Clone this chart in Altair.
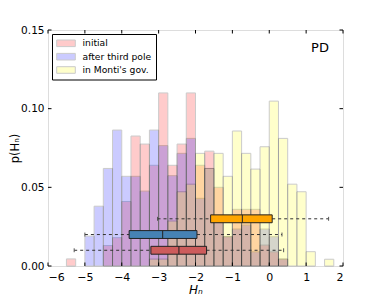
import altair as alt
import pandas as pd

FONT = "DejaVu Sans"
W, H = 295, 236

# ---- histogram data (bin left edges, width 0.25; values = fraction per bin) ----
bin_left = [-5.5, -5.25, -5.0, -4.75, -4.5, -4.25, -4.0, -3.75, -3.5, -3.25,
            -3.0, -2.75, -2.5, -2.25, -2.0, -1.75, -1.5, -1.25, -1.0, -0.75,
            -0.5, -0.25, 0.0, 0.25, 0.5, 0.75, 1.0, 1.25, 1.5]
bin_width = 0.25
initial = [0.0045, 0, 0, 0, 0.013, 0.018, 0.041, 0.0826, 0.0775, 0.064,
           0.110, 0.064, 0.0775, 0.110, 0.064, 0.073, 0.050, 0.0186, 0.036, 0.036,
           0.036, 0.0133, 0.009, 0.0044, 0, 0, 0, 0, 0]
third_pole = [0, 0, 0.019, 0.038, 0.062, 0.0864, 0.057, 0.057, 0.0476, 0.0864,
              0.0765, 0.0574, 0.0716, 0.0811, 0.043, 0.062, 0.032, 0.0186, 0.0235, 0.026,
              0.009, 0.0235, 0.0186, 0.0044, 0, 0, 0, 0, 0]
monti = [0, 0, 0, 0, 0, 0, 0, 0, 0, 0.0044,
         0.0044, 0.0286, 0.0472, 0.052, 0.0716, 0.062, 0.0716, 0.057, 0.0858, 0.0716,
         0.0616, 0.0758, 0.1048, 0.0811, 0.052, 0.0472, 0.0091, 0, 0.0043]

series_names = ["initial", "after third pole", "in Monti's gov."]
series_values = [initial, third_pole, monti]
hist_colors = ["#ff0000", "#0000ff", "#ffff00"]

# ---- box plot summaries ----
box_names = ["in Monti's gov.", "after third pole", "initial"]
box_pos = [0.03, 0.02, 0.01]
box_lo = [-3.03, -5.0, -5.29]
box_q1 = [-1.59, -3.80, -3.21]
box_med = [-0.73, -2.89, -2.45]
box_q3 = [0.08, -1.96, -1.70]
box_hi = [1.61, 0.345, 0.39]
box_colors = ["#ffa500", "#4682b4", "#cd5c5c"]
BOX_H = 0.005

xticks = [-6, -5, -4, -3, -2, -1, 0, 1, 2]
yticks = [0.0, 0.05, 0.10, 0.15]

xs = alt.Scale(domain=[-6, 2], nice=False, zero=False)
ys = alt.Scale(domain=[0, 0.15], nice=False, zero=False)

xaxis = alt.Axis(values=xticks, title="Hₙ", format="d", ticks=False, domain=False,
                 grid=False, labelPadding=5, labelFontSize=11, titleFontSize=12,
                 titleFontStyle="italic", titleFontWeight="normal",
                 titleX=W / 2, titleY=23, titleBaseline="middle", titleAlign="center",
                 labelFont=FONT, titleFont=FONT, labelColor="black", titleColor="black")
yaxis = alt.Axis(values=yticks, title="p(Hₙ)", format=".2f", ticks=False, domain=False,
                 grid=False, labelPadding=4, labelFontSize=10.5, titleFontSize=11.5,
                 titleFontWeight="normal", titleAngle=270,
                 titleX=-33, titleY=118, titleBaseline="middle", titleAlign="center",
                 labelFont=FONT, titleFont=FONT, labelColor="black", titleColor="black")


def X(field):
    return alt.X(field, type="quantitative", scale=xs, axis=xaxis)


def Y(field):
    return alt.Y(field, type="quantitative", scale=ys, axis=yaxis)


layers = []

# histograms
for name, vals, col in zip(series_names, series_values, hist_colors):
    df = pd.DataFrame({"left": bin_left, "val": vals})
    df = df[df["val"] > 0].copy()
    df["right"] = df["left"] + bin_width
    df["base"] = 0.0
    layers.append(
        alt.Chart(df).mark_rect(fill=col, stroke="black", strokeWidth=1, opacity=0.2)
        .encode(x=X("left"), x2="right", y=Y("val"), y2="base")
    )

# box plots
bdf = pd.DataFrame({"name": box_names, "pos": box_pos, "lo": box_lo, "q1": box_q1,
                    "med": box_med, "q3": box_q3, "hi": box_hi})
bdf["ylo"] = bdf["pos"] - BOX_H / 2
bdf["yhi"] = bdf["pos"] + BOX_H / 2
bdf["clo"] = bdf["pos"] - BOX_H / 4
bdf["chi"] = bdf["pos"] + BOX_H / 4

dash = alt.Chart(bdf)
layers.append(dash.mark_rule(color="#333333", strokeWidth=1, strokeDash=[3, 3])
              .encode(x=X("lo"), x2="q1", y=Y("pos")))
layers.append(dash.mark_rule(color="#333333", strokeWidth=1, strokeDash=[3, 3])
              .encode(x=X("q3"), x2="hi", y=Y("pos")))
layers.append(dash.mark_rule(color="#555555", strokeWidth=1)
              .encode(x=X("lo"), y=Y("clo"), y2="chi"))
layers.append(dash.mark_rule(color="#555555", strokeWidth=1)
              .encode(x=X("hi"), y=Y("clo"), y2="chi"))
layers.append(dash.mark_rect(stroke="#222222", strokeWidth=1)
              .encode(x=X("q1"), x2="q3", y=Y("ylo"), y2="yhi",
                      fill=alt.Fill("name:N", scale=alt.Scale(domain=box_names, range=box_colors),
                                    legend=None)))
layers.append(dash.mark_rule(color="#222222", strokeWidth=1)
              .encode(x=X("med"), y=Y("ylo"), y2="yhi"))

# inward ticks on all four sides
tx = pd.DataFrame({"t": xticks})
ty = pd.DataFrame({"t": yticks})
TL = 3.5
layers.append(alt.Chart(tx).mark_rule(color="black", strokeWidth=1)
              .encode(x=X("t"), y=alt.value(H), y2=alt.value(H - TL)))
layers.append(alt.Chart(tx).mark_rule(color="black", strokeWidth=1)
              .encode(x=X("t"), y=alt.value(0), y2=alt.value(TL)))
layers.append(alt.Chart(ty).mark_rule(color="black", strokeWidth=1)
              .encode(y=Y("t"), x=alt.value(0), x2=alt.value(TL)))
layers.append(alt.Chart(ty).mark_rule(color="black", strokeWidth=1)
              .encode(y=Y("t"), x=alt.value(W), x2=alt.value(W - TL)))

# panel label
one = pd.DataFrame({"k": [0]})
layers.append(alt.Chart(one).mark_text(text="PD", font=FONT, fontSize=13, color="black",
                                       align="center", baseline="middle")
              .encode(x=alt.value(272), y=alt.value(18)))

# legend
layers.append(alt.Chart(one).mark_rect(fill="white", stroke="black", strokeWidth=1)
              .encode(x=alt.value(4.5), x2=alt.value(108.5), y=alt.value(4.5), y2=alt.value(50)))
row_y = [13.3, 26.7, 40.0]
for name, col, ry in zip(series_names, hist_colors, row_y):
    layers.append(alt.Chart(one).mark_rect(fill=col, stroke="black", strokeWidth=1, opacity=0.2)
                  .encode(x=alt.value(8.7), x2=alt.value(27.3),
                          y=alt.value(ry - 3.3), y2=alt.value(ry + 3.3)))
    layers.append(alt.Chart(one).mark_text(text=name, font=FONT, fontSize=9.2, color="black",
                                           align="left", baseline="middle")
                  .encode(x=alt.value(34.5), y=alt.value(ry)))

chart = alt.layer(*layers).properties(
    width=W, height=H,
    autosize=alt.AutoSizeParams(type="none"),
    padding={"left": 40, "top": 22, "right": 30, "bottom": 31},
).configure_view(stroke="black", strokeWidth=1).configure(background="white")

chart.save("out.html", embed_options={"renderer": "svg", "actions": False})
